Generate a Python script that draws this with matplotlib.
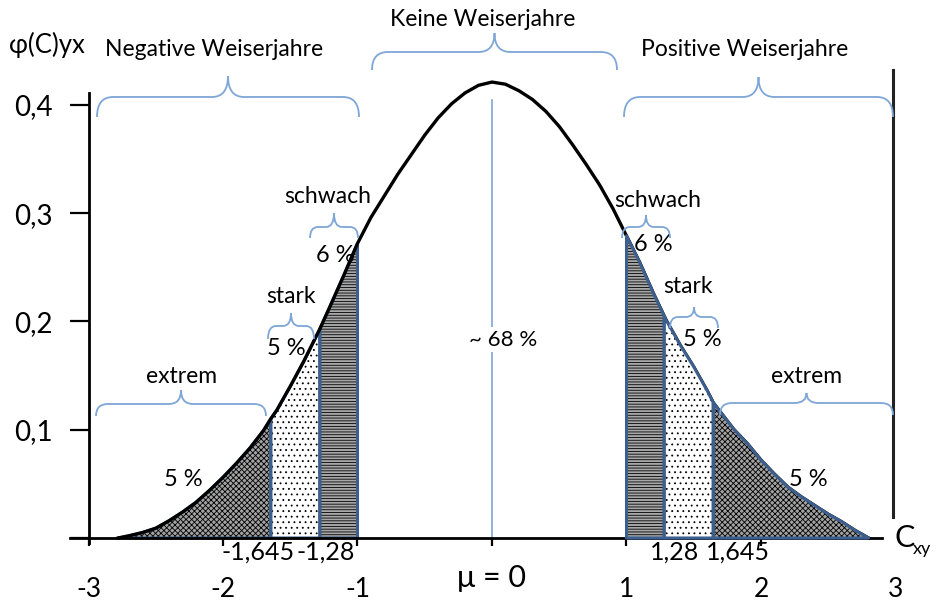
import matplotlib
matplotlib.use("Agg")
import matplotlib.pyplot as plt
import numpy as np
from matplotlib.path import Path
from matplotlib.patches import PathPatch

plt.rcParams['font.family'] = ['Lato', 'DejaVu Sans']
plt.rcParams['hatch.linewidth'] = 0.6

# Dichtekurve
curve_x = [-2.78, -2.7, -2.6, -2.5, -2.4, -2.3, -2.2, -2.1, -2.0, -1.9, -1.8, -1.7,
           -1.645, -1.6, -1.5, -1.4, -1.3, -1.28, -1.2, -1.1, -1.0, -0.9, -0.8, -0.7,
           -0.6, -0.5, -0.4, -0.3, -0.2, -0.1, 0.0, 0.1, 0.2, 0.3, 0.4, 0.5, 0.6, 0.7,
           0.8, 0.9, 1.0, 1.1, 1.2, 1.28, 1.3, 1.4, 1.5, 1.6, 1.645, 1.7, 1.8, 1.9,
           2.0, 2.1, 2.2, 2.3, 2.4, 2.5, 2.6, 2.7, 2.8]
curve_y = [0.0, 0.002, 0.005, 0.009, 0.016, 0.024, 0.033, 0.044, 0.056, 0.069, 0.083, 0.099,
           0.110, 0.118, 0.140, 0.163, 0.188, 0.193, 0.215, 0.243, 0.272, 0.296, 0.316, 0.336,
           0.354, 0.372, 0.388, 0.401, 0.411, 0.418, 0.421, 0.419, 0.413, 0.405, 0.394, 0.380, 0.363, 0.345,
           0.326, 0.304, 0.279, 0.254, 0.226, 0.205, 0.200, 0.178, 0.158, 0.136, 0.125, 0.116, 0.100, 0.087,
           0.072, 0.059, 0.047, 0.038, 0.030, 0.022, 0.015, 0.007, 0.0]

# Grenzen der Weiserjahr-Klassen
bounds_neg = [-2.78, -1.645, -1.28, -1.0]
bounds_pos = [1.0, 1.28, 1.645, 2.8]
classes = ["extrem", "stark", "schwach"]
shares = ["5 %", "5 %", "6 %"]

x_ticks = [-3, -2, -1, 0, 1, 2, 3]
x_ticklabels = ["-3", "-2", "-1", "", "1", "2", "3"]
y_ticks = [0.0, 0.1, 0.2, 0.3, 0.4]
y_ticklabels = ["", "0,1", "0,2", "0,3", "0,4"]

blue_edge = '#3d5f8e'
brace_col = '#7ea6d6'

fig = plt.figure(figsize=(9.37, 6.02), dpi=100)
ax = fig.add_axes([0, 0, 1, 1])

# Pixel-Maßstab: 1 Einheit x = 134.5 px, 0.1 Einheiten y = 108.3 px
sx, sy = 134.5, 1083.0
ax.set_xlim(-492 / sx, (937 - 492) / sx)
ax.set_ylim((538 - 602) / sy, 538 / sy)

cx = np.array(curve_x)
cy = np.array(curve_y)

styles = {
    "extrem": dict(facecolor='#a2a2a2', hatch='xxxxxx'),
    "stark": dict(facecolor='white', hatch='...'),
    "schwach": dict(facecolor='#a8a8a8', hatch='------'),
}


def shade(a, b, style, z):
    m = (cx >= a - 1e-9) & (cx <= b + 1e-9)
    ax.fill_between(cx[m], 0, cy[m], facecolor=styles[style]['facecolor'],
                    hatch=styles[style]['hatch'], edgecolor='black', linewidth=0, zorder=z)
    ax.fill_between(cx[m], 0, cy[m], facecolor='none', edgecolor=blue_edge,
                    linewidth=2.2, zorder=z + 0.1)


# Kurve
ax.plot(cx, cy, color='black', lw=2.4, zorder=3, solid_joinstyle='round')

for i, c in enumerate(classes):
    shade(bounds_neg[i], bounds_neg[i + 1], c, 2)
for i, c in enumerate(reversed(classes)):
    shade(bounds_pos[i], bounds_pos[i + 1], c, 4)

# Mittelwertlinie
ax.plot([0, 0], [0, 0.404], color=brace_col, lw=1.2, zorder=1)
ax.text(0.08, 0.183, "~ 68 %", ha='center', va='center', fontsize=16,
        bbox=dict(facecolor='white', edgecolor='none', pad=2), zorder=2)

# Achsen
for s in ['top', 'right']:
    ax.spines[s].set_visible(False)
ax.spines['left'].set_position(('data', -3))
ax.spines['bottom'].set_position(('data', 0))
ax.spines['left'].set_bounds(-0.005, 0.411)
ax.spines['bottom'].set_bounds(-3.14, 2.90)
ax.spines['left'].set_linewidth(2)
ax.spines['bottom'].set_linewidth(2)

ax.set_yticks(y_ticks, y_ticklabels, fontsize=20)
ax.tick_params(axis='y', direction='out', length=14, width=1.6, pad=12)
ax.set_xticks(x_ticks, x_ticklabels, fontsize=19)
ax.tick_params(axis='x', direction='out', length=6, width=1.6, pad=22)
ax.xaxis.get_major_ticks()[-1].tick1line.set_visible(False)
ax.text(0, -0.037, "μ = 0", ha='center', va='center', fontsize=22)

# Grenzwerte
ax.text(-1.74, -0.013, "-1,645", ha='center', va='center', fontsize=18)
ax.text(-1.24, -0.013, "-1,28", ha='center', va='center', fontsize=18)
ax.text(1.36, -0.013, "1,28", ha='center', va='center', fontsize=18)
ax.text(1.83, -0.013, "1,645", ha='center', va='center', fontsize=18)

# rechte Begrenzung
ax.plot([2.98, 2.98], [0.019, 0.432], color='#222222', lw=2.2)

ax.text(-3.59, 0.455, "φ(C)yx", ha='left', va='center', fontsize=18.5)
ax.text(2.99, 0.0, "C", ha='left', va='center', fontsize=22)
ax.text(3.13, -0.010, "xy", ha='left', va='center', fontsize=13)


def brace(x0, x1, y_main, h_end, h_tip, r):
    # Pixelangaben -> Datenkoordinaten
    pm = (x0 + x1) / 2
    pts = [(x0, y_main + h_end), (x0, y_main), (x0 + r, y_main),
           (pm - r, y_main), (pm, y_main), (pm, y_main - h_tip),
           (pm, y_main), (pm + r, y_main),
           (x1 - r, y_main), (x1, y_main), (x1, y_main + h_end)]
    codes = [Path.MOVETO, Path.CURVE3, Path.CURVE3, Path.LINETO, Path.CURVE3, Path.CURVE3,
             Path.CURVE3, Path.CURVE3, Path.LINETO, Path.CURVE3, Path.CURVE3]
    verts = [((px - 492) / sx, (538 - py) / sy) for px, py in pts]
    ax.add_patch(PathPatch(Path(verts, codes), facecolor='none', edgecolor=brace_col,
                           lw=1.3, zorder=5))


# Klammern (Pixelangaben)
brace(97, 359, 97, 20, 21, 16)
brace(372, 617, 52, 18, 19, 16)
brace(624, 893, 97, 20, 20, 16)
brace(96, 266, 404, 12, 14, 12)
brace(268, 314, 326, 13, 13, 8)
brace(310, 358, 227, 11, 14, 8)
brace(622, 670, 227, 11, 12, 8)
brace(670, 718, 317, 11, 10, 8)
brace(720, 893, 403, 12, 10, 12)

# Überschriften
ax.text(-2.07, 0.451, "Negative Weiserjahre", ha='center', va='center', fontsize=16.5)
ax.text(-0.07, 0.479, "Keine Weiserjahre", ha='center', va='center', fontsize=16.5)
ax.text(1.88, 0.451, "Positive Weiserjahre", ha='center', va='center', fontsize=16.5)

# Klassenbeschriftungen links
ax.text(-2.305, 0.149, classes[0], ha='center', va='center', fontsize=16.5)
ax.text(-1.494, 0.223, classes[1], ha='center', va='center', fontsize=16.5)
ax.text(-1.219, 0.315, classes[2], ha='center', va='center', fontsize=16.5)
ax.text(-2.297, 0.054, shares[0], ha='center', va='center', fontsize=17)
ax.text(-1.532, 0.175, shares[1], ha='center', va='center', fontsize=17)
ax.text(-1.167, 0.261, shares[2], ha='center', va='center', fontsize=17)

# Klassenbeschriftungen rechts
ax.text(2.342, 0.149, classes[0], ha='center', va='center', fontsize=16.5)
ax.text(1.457, 0.232, classes[1], ha='center', va='center', fontsize=16.5)
ax.text(1.234, 0.312, classes[2], ha='center', va='center', fontsize=16.5)
ax.text(2.349, 0.054, shares[0], ha='center', va='center', fontsize=17)
ax.text(1.561, 0.183, shares[1], ha='center', va='center', fontsize=17)
ax.text(1.197, 0.271, shares[2], ha='center', va='center', fontsize=17)

fig.savefig("out.png", dpi=100)
